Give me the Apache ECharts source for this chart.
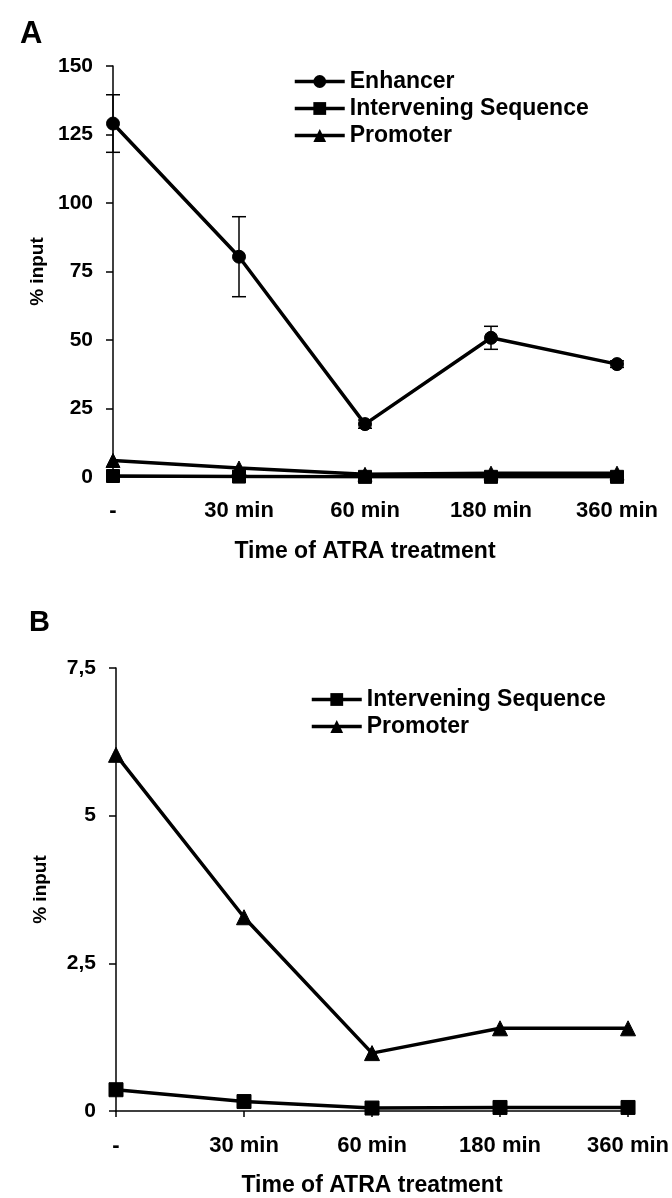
<!DOCTYPE html>
<html>
<head>
<meta charset="utf-8">
<script src="https://cdn.jsdelivr.net/npm/echarts@6/dist/echarts.min.js"></script>
<style>
html,body{margin:0;padding:0;background:#fff;}
#chart{width:672px;height:1198px;}
</style>
</head>
<body>
<div id="chart"></div>
<script>
// ---- data ----
var categories = ['-', '30 min', '60 min', '180 min', '360 min'];
var enhancer = [129, 80.4, 19.3, 50.8, 41.2];
var enhancerErr = [10.5, 14.6, 1.5, 4.2, 1.2];
var intervening = [0.36, 0.16, 0.05, 0.06, 0.06];
var promoter = [6.03, 3.28, 0.98, 1.40, 1.40];
var yTicksA = [0, 25, 50, 75, 100, 125, 150];
var yTicksB = [0, 2.5, 5, 7.5];

var FONT = '"Liberation Sans", Arial, sans-serif';
var chart = echarts.init(document.getElementById('chart'), null, {renderer: 'canvas'});

function xAxisDef(gridIndex, margin, nameGap) {
  return {
    type: 'category', gridIndex: gridIndex, data: categories, boundaryGap: false,
    name: 'Time of ATRA treatment', nameLocation: 'middle', nameGap: nameGap,
    nameTextStyle: {color: '#000', fontFamily: FONT, fontWeight: 'bold', fontSize: 23, verticalAlign: 'top'},
    axisLine: {show: true, lineStyle: {color: '#000', width: 1.5}},
    axisTick: {show: true, alignWithLabel: true, length: 6, lineStyle: {color: '#000', width: 1.5}},
    axisLabel: {color: '#000', fontFamily: FONT, fontWeight: 'bold', fontSize: 22, margin: margin},
    splitLine: {show: false}
  };
}
function yAxisDef(gridIndex, ticks, fmt) {
  var interval = ticks[1] - ticks[0];
  return {
    type: 'value', gridIndex: gridIndex, min: ticks[0], max: ticks[ticks.length - 1], interval: interval,
    name: '% input', nameLocation: 'middle', nameGap: 66, nameRotate: 90,
    nameTextStyle: {color: '#000', fontFamily: FONT, fontWeight: 'bold', fontSize: 19},
    axisLine: {show: true, lineStyle: {color: '#000', width: 1.5}},
    axisTick: {show: true, length: 7, lineStyle: {color: '#000', width: 1.5}},
    axisLabel: {color: '#000', fontFamily: FONT, fontWeight: 'bold', fontSize: 21, margin: 20, formatter: fmt},
    splitLine: {show: false}
  };
}
function lineSeries(name, data, symbol, size, xi, yi, z) {
  return {
    type: 'line', name: name, data: data, xAxisIndex: xi, yAxisIndex: yi,
    symbol: symbol, symbolSize: size, showSymbol: true, z: z || 3,
    lineStyle: {color: '#000', width: 3.5},
    itemStyle: {color: '#000', borderColor: '#000'},
    emphasis: {disabled: true}, animation: false
  };
}

var errData = categories.map(function (c, i) {
  return [i, enhancer[i] - enhancerErr[i], enhancer[i] + enhancerErr[i]];
});

var legendText = {color: '#000', fontFamily: FONT, fontWeight: 'bold', fontSize: 23, lineHeight: 23};
var legendLine = {color: '#000', width: 3.5};

chart.setOption({
  backgroundColor: '#ffffff',
  animation: false,
  title: [
    {text: 'A', left: 15, top: 14, textStyle: {color: '#000', fontFamily: FONT, fontWeight: 'bold', fontSize: 31}},
    {text: 'B', left: 24, top: 603, textStyle: {color: '#000', fontFamily: FONT, fontWeight: 'bold', fontSize: 29}}
  ],
  legend: [
    {orient: 'vertical', left: 288, top: 65, itemWidth: 50, itemHeight: 16, itemGap: 4,
     lineStyle: legendLine, itemStyle: {color: '#000'},
     data: ['Enhancer', 'Intervening Sequence', 'Promoter'], textStyle: legendText, selectedMode: false},
    {orient: 'vertical', left: 305, top: 683, itemWidth: 50, itemHeight: 16, itemGap: 4,
     lineStyle: legendLine, itemStyle: {color: '#000'},
     data: ['Intervening Sequence', 'Promoter'], textStyle: legendText, selectedMode: false}
  ],
  grid: [
    {left: 113, top: 66, width: 504, height: 411},
    {left: 116, top: 668, width: 513, height: 445}
  ],
  xAxis: [xAxisDef(0, 23, 63), xAxisDef(1, 24, 63)],
  yAxis: [
    yAxisDef(0, yTicksA, function (v) { return String(v); }),
    yAxisDef(1, yTicksB, function (v) { return String(v).replace('.', ','); })
  ],
  series: [
    {
      type: 'custom', xAxisIndex: 0, yAxisIndex: 0, data: errData, z: 2, silent: true,
      renderItem: function (params, api) {
        var x = api.value(0);
        var lo = api.coord([x, api.value(1)]);
        var hi = api.coord([x, api.value(2)]);
        var hw = 7;
        var st = {stroke: '#000', lineWidth: 1.5};
        return {type: 'group', children: [
          {type: 'line', shape: {x1: lo[0], y1: lo[1], x2: hi[0], y2: hi[1]}, style: st},
          {type: 'line', shape: {x1: lo[0] - hw, y1: lo[1], x2: lo[0] + hw, y2: lo[1]}, style: st},
          {type: 'line', shape: {x1: hi[0] - hw, y1: hi[1], x2: hi[0] + hw, y2: hi[1]}, style: st}
        ]};
      }
    },
    lineSeries('Enhancer', enhancer, 'circle', 13, 0, 0),
    lineSeries('Intervening Sequence', intervening, 'rect', 13, 0, 0),
    lineSeries('Promoter', promoter, 'triangle', 14, 0, 0),
    lineSeries('Intervening Sequence', intervening, 'rect', 14, 1, 1),
    lineSeries('Promoter', promoter, 'triangle', 15, 1, 1)
  ]
});
</script>
</body>
</html>
